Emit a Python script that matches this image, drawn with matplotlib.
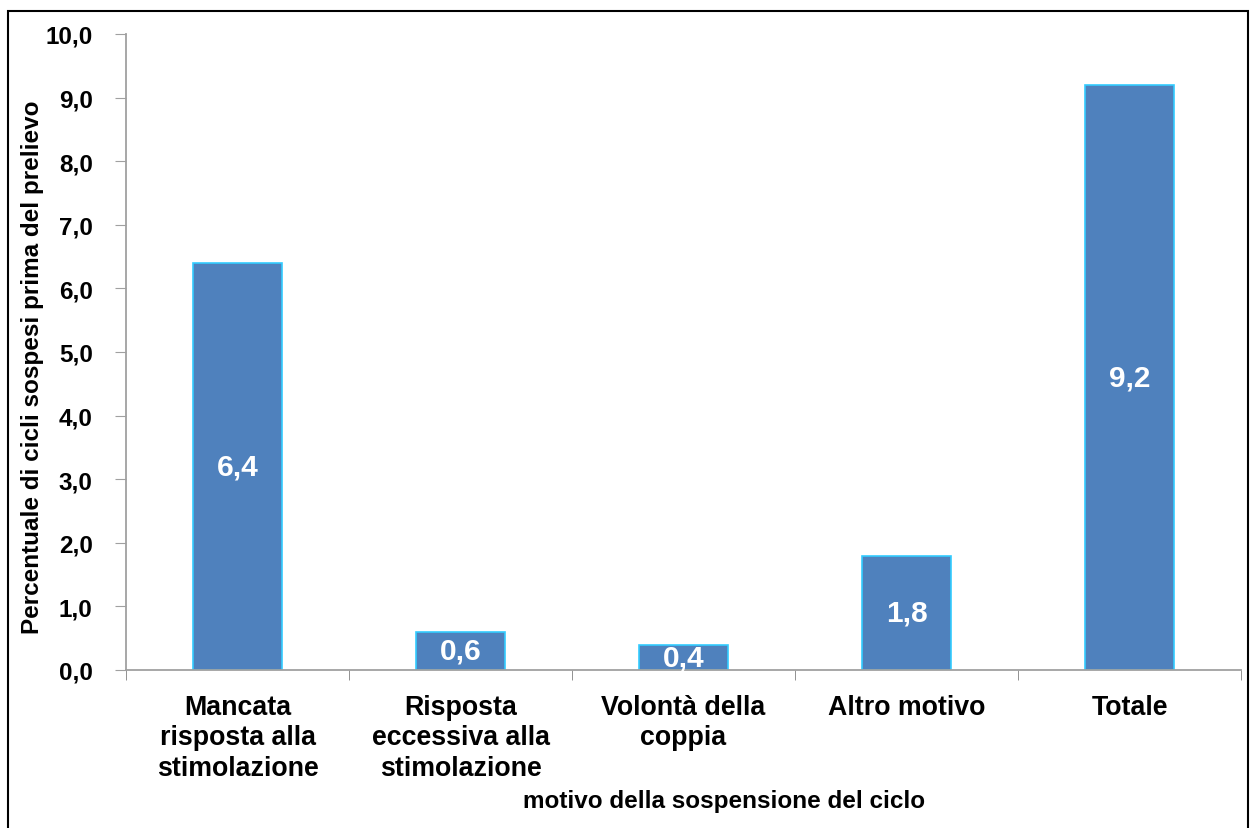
import matplotlib
matplotlib.use("Agg")
import matplotlib.pyplot as plt
from matplotlib.patches import Rectangle

categories = ["Mancata\nrisposta alla\nstimolazione", "Risposta\neccessiva alla\nstimolazione",
              "Volontà della\ncoppia", "Altro motivo", "Totale"]
values = [6.4, 0.6, 0.4, 1.8, 9.2]
yticks = [0, 1, 2, 3, 4, 5, 6, 7, 8, 9, 10]

plt.rcParams['font.family'] = ['Liberation Sans', 'DejaVu Sans']

fig = plt.figure(figsize=(12.5, 8.29), dpi=100)
ax = fig.add_axes([126/1250, 1-671/829, (1241-126)/1250, (671-35)/829])

x = list(range(len(values)))
bars = ax.bar(x, values, width=0.4, color="#4F81BD", edgecolor="#33CCFF", linewidth=1.2)
for xi, v in zip(x, values):
    ax.text(xi, v/2, f"{v:.1f}".replace(".", ","), ha="center", va="center",
            color="white", fontsize=21.5, fontweight="bold")

ax.set_xlim(-0.5, len(values)-0.5)
ax.set_ylim(0, 10)
ax.set_yticks(yticks)
ax.set_yticklabels([f"{t:.1f}".replace(".", ",") for t in yticks], fontsize=17.5, fontweight="bold")
ax.set_xticks(x)
ax.set_xticklabels(categories, fontsize=19.3, fontweight="bold", linespacing=1.23)
ax.set_xticks([i - 0.5 for i in range(len(values)+1)], minor=True)
ax.tick_params(axis="x", which="major", length=0, pad=17)
ax.tick_params(axis="x", which="minor", length=7, color="#808080", direction="out")
ax.tick_params(axis="y", length=8, color="#A0A0A0", direction="out", pad=16)

for s in ["top", "right"]:
    ax.spines[s].set_visible(False)
for s in ["left", "bottom"]:
    ax.spines[s].set_color("#A0A0A0")
    ax.spines[s].set_linewidth(1.3)

ax.set_ylabel("Percentuale di cicli sospesi prima del prelievo", fontsize=17.5, fontweight="bold")
ax.yaxis.set_label_coords(-82/1115, 0.478)
fig.text(724/1250, 1-802/829, "motivo della sospensione del ciclo", ha="center", va="center",
         fontsize=17.5, fontweight="bold")

fig.patches.append(Rectangle((8/1250, -0.05), 1240/1250, 1.05-12/829, transform=fig.transFigure,
                             fill=False, edgecolor="black", linewidth=1.5))

fig.savefig("out.png", dpi=100)
